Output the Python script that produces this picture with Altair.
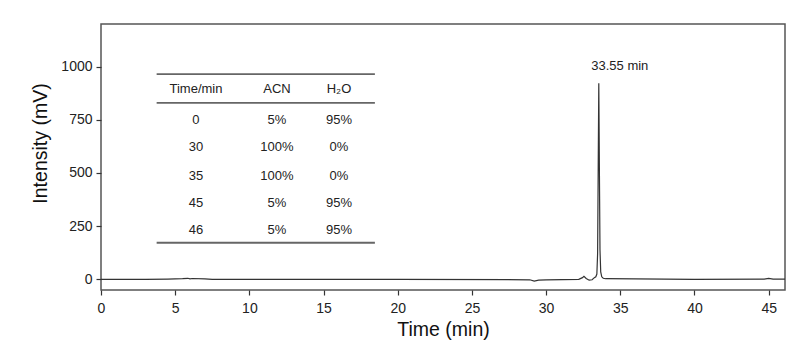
import altair as alt
import pandas as pd

# ---- chromatogram trace ----
time_min = [0, 3, 4.5, 5.5, 5.85, 6.0, 6.15, 7, 7.5, 10, 20, 28.9, 29.2, 29.5, 30,
            32.2, 32.45, 32.55, 32.7, 32.9, 33.1, 33.25, 33.35, 33.42, 33.47, 33.51,
            33.55, 33.59, 33.63, 33.68, 33.75, 33.85, 34.0, 36, 38, 40, 44.7, 45, 45.3, 46.1]
intensity = [0, 0, 1, 3, 5, 2, 4, 2, 0, 0, 0, -2, -8, -4, -2,
             0, 8, 14, 4, -4, -2, 8, 12, 25, 120, 520,
             921, 520, 140, 35, 12, 5, 3, 2, 1, 0, 1, 5, 1, 1]

# ---- gradient table ----
tbl_time = ["0", "30", "35", "45", "46"]
tbl_acn = ["5%", "100%", "100%", "5%", "5%"]
tbl_h2o = ["95%", "0%", "0%", "95%", "95%"]
tbl_header = ["Time/min", "ACN", "H₂O"]

peak_time = 33.55
peak_height = 921
peak_label = "33.55 min"

# ---- layout constants (data coordinates of the inset table) ----
col_x = [6.40, 11.86, 16.04]
header_y = 893
row_y = [749, 623, 487, 361, 232]
rule_y = [964, 829, 172]
rule_x0, rule_x1 = 3.75, 18.46

x_dom = [0, 46.1]
y_dom = [-50, 1200]
FONT = "Liberation Sans"

trace = pd.DataFrame({"t": time_min, "v": intensity})

cells = []
for j, h in enumerate(tbl_header):
    cells.append({"x": col_x[j], "y": header_y, "txt": h})
for i in range(len(tbl_time)):
    for j, col in enumerate([tbl_time, tbl_acn, tbl_h2o]):
        cells.append({"x": col_x[j], "y": row_y[i], "txt": col[i]})
cells = pd.DataFrame(cells)
rules = pd.DataFrame({"x": [rule_x0] * 3, "x2": [rule_x1] * 3, "y": rule_y})
ann = pd.DataFrame({"t": [peak_time], "v": [peak_height], "txt": [peak_label]})

xs = alt.Scale(domain=x_dom, nice=False, zero=False)
ys = alt.Scale(domain=y_dom, nice=False, zero=False)

x_ticks = [i * 2.5 for i in range(0, 19)]
y_ticks = [i * 125 for i in range(0, 10)]

x_axis = alt.Axis(
    values=x_ticks, title="Time (min)", grid=False, domain=False, labelFlush=False,
    labelExpr="datum.value % 5 === 0 ? '' + datum.value : ''",
    tickSize={"condition": {"test": "datum.value % 5 !== 0", "value": 3}, "value": 5},
    tickColor="#333", tickWidth=1.2, labelFontSize=14, labelColor="#222",
    labelFont=FONT, titleFont=FONT, titleFontSize=19.5, titleFontWeight="normal",
    titleColor="#111", labelPadding=6, titlePadding=5,
)
y_axis = alt.Axis(
    values=y_ticks, title="Intensity (mV)", grid=False, domain=False, labelFlush=False,
    labelExpr="datum.value % 250 === 0 ? '' + datum.value : ''",
    tickSize={"condition": {"test": "datum.value % 250 !== 0", "value": 3}, "value": 5},
    tickColor="#333", tickWidth=1.2, labelFontSize=14, labelColor="#222",
    labelFont=FONT, titleFont=FONT, titleFontSize=19.5, titleFontWeight="normal",
    titleColor="#111", labelPadding=4, titlePadding=10, titleY=119,
)

line = alt.Chart(trace).mark_line(color="#333", strokeWidth=1.2, clip=True).encode(
    x=alt.X("t:Q", scale=xs, axis=x_axis),
    y=alt.Y("v:Q", scale=ys, axis=y_axis),
)

table_rules = alt.Chart(rules).mark_rule(color="#666", strokeWidth=1.8).encode(
    x="x:Q", x2="x2:Q", y="y:Q"
)
table_text = alt.Chart(cells).mark_text(
    font=FONT, fontSize=13, color="#222", align="center", baseline="middle"
).encode(x="x:Q", y="y:Q", text="txt:N")

annot = alt.Chart(ann).mark_text(
    font=FONT, fontSize=13, color="#222", align="center", baseline="middle",
    dx=21, dy=-17
).encode(x="t:Q", y="v:Q", text="txt:N")

chart = alt.layer(line, table_rules, table_text, annot).properties(
    width=684, height=266,
    autosize=alt.AutoSizeParams(type="none"),
    padding={"left": 101, "top": 24, "right": 15, "bottom": 62},
    background="white",
).configure_view(stroke="#555", strokeWidth=1.5)

chart.save("out.html", embed_options={"renderer": "svg", "actions": False})
